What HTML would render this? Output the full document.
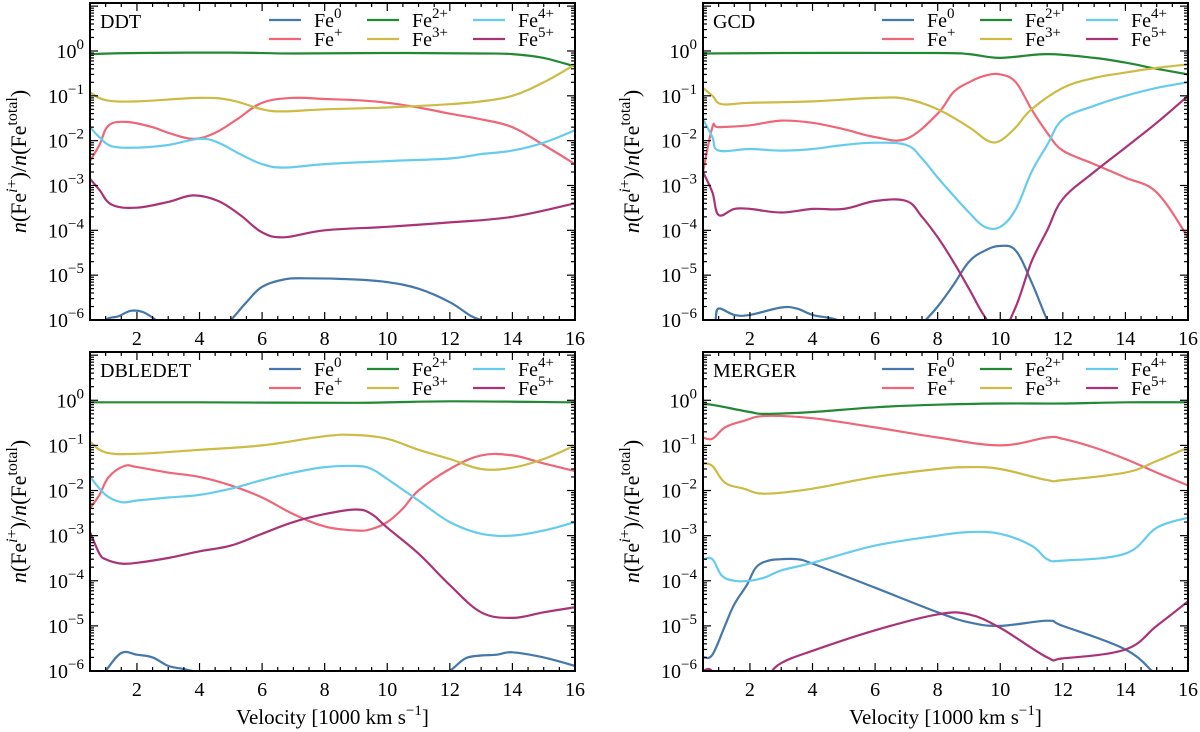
<!DOCTYPE html>
<html><head><meta charset="utf-8"><style>
html,body{margin:0;padding:0;background:#fff;}
svg{display:block;font-family:"Liberation Serif","DejaVu Serif",serif;}
</style></head><body>
<svg id="fig" width="1200" height="732" viewBox="0 0 1200 732" xmlns="http://www.w3.org/2000/svg"></svg>
<script>
const xTicks=[2,4,6,8,10,12,14,16];
const yTickExps=[0,-1,-2,-3,-4,-5,-6];
const ionNames=["0","+","2+","3+","4+","5+"];
const ionColors=["#4477AA","#EE6677","#228833","#CCBB44","#66CCEE","#AA3377"];
const panelTitles=["DDT","GCD","DBLEDET","MERGER"];
// Each series: [velocity, fraction] pairs
const ddtFe0=[[0.5,4e-7],[1,1e-6],[1.4,1.2e-6],[1.8,1.6e-6],[2.2,1.5e-6],[2.6,1e-6],[3,6e-7],[4.5,5e-7],[5,1e-6],[5.5,2.5e-6],[6,5.5e-6],[6.7,8e-6],[7.4,8.5e-6],[9,8e-6],[10,7e-6],[11,5e-6],[12,2.5e-6],[12.7,1.2e-6],[13.2,9e-7],[14,5e-7],[16,4e-7]];
const ddtFe1=[[0.5,0.0035],[0.8,0.008],[1.1,0.022],[1.7,0.026],[2.5,0.02],[3,0.015],[3.8,0.011],[4.5,0.015],[5.2,0.03],[6,0.07],[7,0.09],[8,0.085],[9,0.08],[10,0.07],[11,0.055],[12,0.04],[13,0.03],[14,0.02],[15,0.008],[16,0.003]];
const ddtFe2=[[0.5,0.85],[2,0.9],[5,0.92],[7,0.88],[10,0.9],[13,0.88],[14,0.85],[15,0.7],[16,0.45]];
const ddtFe3=[[0.5,0.12],[1,0.08],[2,0.075],[4,0.09],[5,0.08],[6,0.05],[6.7,0.045],[8,0.05],[10,0.055],[12,0.065],[13,0.075],[14,0.1],[15,0.2],[16,0.5]];
const ddtFe4=[[0.5,0.02],[0.8,0.012],[1.2,0.0075],[2,0.007],[3,0.008],[4,0.011],[4.6,0.009],[5.3,0.005],[6,0.003],[6.7,0.0025],[8,0.003],[10,0.0035],[12,0.004],[13,0.005],[14,0.006],[15,0.009],[16,0.017]];
const ddtFe5=[[0.5,0.0014],[0.8,0.0008],[1.2,0.00037],[2,0.00032],[3,0.00043],[3.8,0.0006],[4.6,0.00045],[5.3,0.00022],[6,0.00009],[6.7,0.00007],[8,0.0001],[10,0.00012],[12,0.00015],[14,0.0002],[16,0.0004]];
const gcdFe0=[[0.8,5e-7],[0.9,1e-6],[1,1.8e-6],[1.5,1.3e-6],[2,1.3e-6],[3,1.9e-6],[3.5,1.8e-6],[4,1.3e-6],[4.8,1e-6],[5.2,6e-7],[7.3,5e-7],[7.5,8e-7],[8,2e-6],[8.5,6e-6],[9,2e-5],[9.5,3.5e-5],[10,4.5e-5],[10.5,3.5e-5],[11,7e-6],[11.5,1e-6],[12,2e-7]];
const gcdFe1=[[0.5,0.002],[0.8,0.02],[1,0.02],[2,0.022],[3,0.028],[4,0.025],[5,0.018],[6,0.012],[7,0.011],[8,0.04],[8.5,0.12],[9,0.2],[9.5,0.28],[10,0.3],[10.5,0.2],[11,0.05],[11.5,0.015],[12,0.006],[13,0.003],[14,0.0015],[15,0.0007],[16,0.00007]];
const gcdFe2=[[0.5,0.88],[3,0.9],[8,0.9],[9,0.85],[10,0.7],[11.5,0.85],[13,0.7],[14,0.55],[15,0.4],[16,0.3]];
const gcdFe3=[[0.5,0.15],[0.8,0.1],[1.1,0.065],[2,0.07],[4,0.075],[6,0.09],[7,0.085],[8,0.05],[9,0.02],[9.6,0.01],[10,0.01],[10.5,0.02],[11,0.05],[12,0.15],[13,0.25],[14,0.33],[15,0.42],[16,0.5]];
const gcdFe4=[[0.5,0.03],[0.8,0.012],[1,0.006],[2,0.0065],[3,0.006],[4,0.0065],[5,0.008],[6,0.009],[7,0.008],[7.5,0.004],[8,0.0015],[8.5,0.0006],[9,0.00025],[9.5,0.00012],[10,0.00012],[10.5,0.0003],[11,0.002],[11.5,0.008],[12,0.03],[13,0.06],[14,0.1],[15,0.15],[16,0.2]];
const gcdFe5=[[0.5,0.002],[0.8,0.0007],[1,0.00022],[1.5,0.0003],[2,0.0003],[3,0.00025],[4,0.0003],[5,0.0003],[6,0.00045],[7,0.00045],[7.5,0.0002],[8,0.00007],[8.5,0.00002],[9,0.000005],[9.5,0.0000012],[10,0.0000005],[10.5,0.000002],[11,0.00002],[11.5,0.0001],[12,0.0005],[13,0.002],[14,0.007],[15,0.025],[16,0.1]];
const dblFe0=[[0.7,5e-7],[1,1e-6],[1.5,2.5e-6],[2,2.3e-6],[2.5,2e-6],[3,1.3e-6],[3.5,1.1e-6],[4,9e-7],[4.5,6e-7],[11.5,6e-7],[12,1e-6],[12.5,1.9e-6],[13,2.2e-6],[13.5,2.3e-6],[14,2.6e-6],[15,2e-6],[16,1.3e-6]];
const dblFe1=[[0.5,0.004],[0.8,0.008],[1.1,0.02],[1.6,0.035],[2,0.033],[3,0.025],[4,0.02],[5,0.013],[6,0.007],[7,0.003],[8,0.0016],[9,0.0013],[9.5,0.0014],[10,0.002],[10.5,0.004],[11,0.01],[12,0.03],[13,0.06],[14,0.06],[15,0.04],[16,0.027]];
const dblFe2=[[0.5,0.9],[4,0.9],[9,0.88],[12,0.95],[16,0.9]];
const dblFe3=[[0.5,0.12],[1,0.07],[2,0.065],[4,0.08],[6,0.1],[8,0.16],[9,0.17],[10,0.14],[11,0.08],[12,0.05],[13,0.03],[14,0.032],[15,0.05],[16,0.1]];
const dblFe4=[[0.5,0.02],[1,0.008],[1.5,0.0055],[2,0.006],[3,0.007],[4,0.008],[5,0.011],[6,0.017],[7,0.025],[8,0.033],[9,0.035],[9.5,0.03],[10,0.018],[11,0.006],[12,0.002],[13,0.0011],[14,0.001],[15,0.0013],[16,0.002]];
const dblFe5=[[0.5,0.0012],[0.8,0.0004],[1,0.0003],[1.5,0.00024],[2,0.00025],[3,0.00032],[4,0.00045],[5,0.0006],[6,0.0011],[7,0.002],[8,0.003],[9,0.0038],[9.5,0.003],[10,0.0015],[11,0.0004],[12,0.00008],[13,0.00002],[14,0.000015],[15,0.00002],[16,0.000026]];
const merFe0=[[0.5,2e-6],[0.8,2.3e-6],[1.2,1e-5],[1.5,3e-5],[1.9,8e-5],[2.2,0.0002],[2.6,0.00028],[3,0.0003],[3.5,0.0003],[4,0.00024],[6,0.00007],[8,0.00002],[9,0.000012],[10,0.00001],[11.5,0.000013],[12,0.00001],[14,0.000003],[15,0.0000008],[16,2e-7]];
const merFe1=[[0.5,0.15],[0.8,0.14],[1.2,0.25],[1.8,0.35],[2.5,0.45],[4,0.4],[6,0.25],[8,0.15],[10,0.1],[11.5,0.15],[12,0.14],[13,0.09],[14,0.05],[15,0.025],[16,0.013]];
const merFe2=[[0.5,0.85],[1,0.75],[2,0.55],[2.5,0.5],[4,0.55],[6,0.7],[8,0.8],[10,0.85],[12,0.85],[14,0.9],[16,0.9]];
const merFe3=[[0.5,0.04],[0.8,0.035],[1.2,0.015],[1.8,0.011],[2.5,0.0085],[4,0.011],[6,0.02],[8,0.03],[9,0.033],[10,0.03],[11.5,0.017],[12,0.017],[14,0.025],[15,0.045],[16,0.09]];
const merFe4=[[0.5,0.0003],[0.8,0.0003],[1.1,0.00013],[1.5,0.0001],[2,0.0001],[2.5,0.00012],[3,0.00017],[4,0.00025],[6,0.0006],[8,0.001],[9,0.0012],[10,0.0011],[11,0.0006],[11.5,0.0003],[12,0.00028],[14,0.0004],[15,0.0015],[16,0.0025]];
const merFe5=[[0.5,1e-6],[0.7,1.1e-6],[0.9,8e-7],[1.2,4e-7],[2.4,5e-7],[2.6,8e-7],[3,1.5e-6],[4,2.8e-6],[6,8e-6],[8,1.8e-5],[9,1.8e-5],[10,9e-6],[11.5,2e-6],[12,1.9e-6],[14,3e-6],[15,1e-5],[16,3.5e-5]];
const panelSeries=[[ddtFe0,ddtFe1,ddtFe2,ddtFe3,ddtFe4,ddtFe5],[gcdFe0,gcdFe1,gcdFe2,gcdFe3,gcdFe4,gcdFe5],[dblFe0,dblFe1,dblFe2,dblFe3,dblFe4,dblFe5],[merFe0,merFe1,merFe2,merFe3,merFe4,merFe5]];

const NS="http://www.w3.org/2000/svg";
const svg=document.getElementById('fig');
function mk(tag,attrs,parent){const e=document.createElementNS(NS,tag);for(const k in attrs)e.setAttribute(k,attrs[k]);(parent||svg).appendChild(e);return e;}
function smooth(pts){
  let d='M'+pts[0][0].toFixed(1)+','+pts[0][1].toFixed(1);
  const t=0.18;
  for(let i=0;i<pts.length-1;i++){
    const p0=pts[Math.max(0,i-1)],p1=pts[i],p2=pts[i+1],p3=pts[Math.min(pts.length-1,i+2)];
    const c1x=p1[0]+(p2[0]-p0[0])*t,c1y=p1[1]+(p2[1]-p0[1])*t;
    const c2x=p2[0]-(p3[0]-p1[0])*t,c2y=p2[1]-(p3[1]-p1[1])*t;
    d+=' C'+c1x.toFixed(1)+','+c1y.toFixed(1)+' '+c2x.toFixed(1)+','+c2y.toFixed(1)+' '+p2[0].toFixed(1)+','+p2[1].toFixed(1);
  }
  return d;
}
const frames=[[90,3,575,320],[703,3,1188,320],[90,352,575,671],[703,352,1188,671]];
const X0=0.5,X1=16,LMIN=-6,LMAX=1.07;
frames.forEach((f,pi)=>{
  const [L,T,R,B]=f;
  const xs=v=>L+(v-X0)/(X1-X0)*(R-L);
  const ys=val=>B-(Math.log10(val)-LMIN)/(LMAX-LMIN)*(B-T);
  const g=mk('g',{});
  
  
  const cp=mk('clipPath',{id:'clip'+pi},g);
  mk('rect',{x:L,y:T,width:R-L,height:B-T},cp);
  panelSeries[pi].forEach((s,si)=>{
    const pts=s.map(p=>[xs(p[0]),ys(p[1])]);
    const pth=mk('path',{d:smooth(pts),fill:'none',stroke:ionColors[si],'stroke-width':2.2,'stroke-linejoin':'round','clip-path':'url(#clip'+pi+')'},g);
    
    
  });
  for(let v=1;v<=16;v+=0.5){const major=(v%2===0);const len=major?8:4;const x=xs(v);
    mk('line',{x1:x,y1:B,x2:x,y2:B-len,stroke:'#000','stroke-width':1.2},g);
    mk('line',{x1:x,y1:T,x2:x,y2:T+len,stroke:'#000','stroke-width':1.2},g);}
  for(let e=-6;e<=1;e++){for(let m=1;m<=9;m++){const val=m*Math.pow(10,e);const lv=Math.log10(val);if(lv>LMAX)continue;const y=ys(val);const len=m===1?8:4;
    mk('line',{x1:L,y1:y,x2:L+len,y2:y,stroke:'#000','stroke-width':1.2},g);
    mk('line',{x1:R,y1:y,x2:R-len,y2:y,stroke:'#000','stroke-width':1.2},g);}}
  const fr=mk('rect',{x:L,y:T,width:R-L,height:B-T,fill:'none',stroke:'#000','stroke-width':2},g);
  
  
  xTicks.forEach(v=>{const t=mk('text',{x:xs(v),y:B+25,'font-size':20,'text-anchor':'middle'},g);t.textContent=v;
    
    });
  yTickExps.forEach(e=>{const t=mk('text',{x:L-6,y:ys(Math.pow(10,e))+7,'font-size':20,'text-anchor':'end'},g);
    
    
    t.innerHTML='10<tspan dy="-9" font-size="15">'+(e<0?'\u2212'+(-e):e)+'</tspan>';});
  const tt=mk('text',{x:L+10,y:T+25,'font-size':20},g);tt.textContent=panelTitles[pi];
  
  
  const colX=[179,277,383];
  ionNames.forEach((n,i)=>{const c=Math.floor(i/2),r=i%2;const y=T+17+r*19;const lx=L+colX[c];
    const lg=mk('g',{},g);
    
    
    mk('line',{x1:lx,y1:y,x2:lx+32,y2:y,stroke:ionColors[i],'stroke-width':2.2},lg);
    const t=mk('text',{x:lx+45,y:y+7,'font-size':20},lg);
    t.innerHTML='Fe<tspan dy="-9" font-size="15">'+n+'</tspan>';});
  const cy=(T+B)/2;const yl=mk('text',{x:0,y:0,'font-size':22,'text-anchor':'middle',transform:'translate('+(L-64)+','+cy+') rotate(-90)'},g);
  
  
  yl.innerHTML='<tspan font-style="italic">n</tspan>(Fe<tspan dy="-9" font-size="16"><tspan font-style="italic">i</tspan>+</tspan><tspan dy="9">)/</tspan><tspan font-style="italic">n</tspan>(Fe<tspan dy="-9" font-size="16">total</tspan><tspan dy="9">)</tspan>';
  if(pi>=2){const xl=mk('text',{x:(L+R)/2,y:724,'font-size':21,'text-anchor':'middle'},g);
    
    
    xl.innerHTML='Velocity [1000 km s<tspan dy="-9" font-size="15">\u22121</tspan><tspan dy="9">]</tspan>';}
});
</script>
</body></html>
